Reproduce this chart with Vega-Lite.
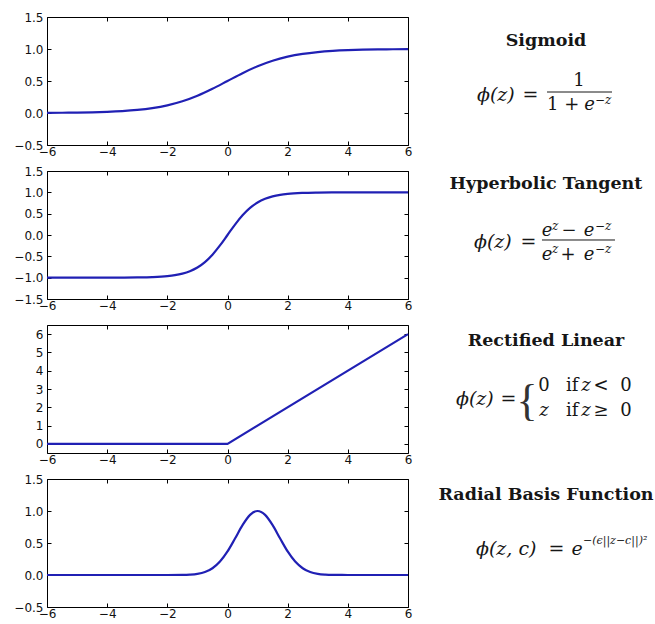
{
  "$schema": "https://vega.github.io/schema/vega-lite/v6.json",
  "padding": {"top": 11, "left": 13, "right": 0, "bottom": 0},
  "background": "white",
  "config": {
    "view": {"stroke": null},
    "axis": {
      "grid": false,
      "tickSize": -4,
      "tickColor": "#000",
      "domainColor": "#000",
      "labelFont": "DejaVu Sans",
      "labelFontSize": 12,
      "labelColor": "#111",
      "labelFlush": false,
      "labelOverlap": false
    },
    "axisX": {"labelPadding": 5},
    "axisY": {"labelPadding": 8},
    "text": {"font": "DejaVu Serif", "fontSize": 18, "color": "#161616", "baseline": "alphabetic"}
  },
  "datasets": {
    "curves": [
      {"fn": "sigmoid", "z": -6, "phi": 0.00247},
      {"fn": "sigmoid", "z": -5.5, "phi": 0.00407},
      {"fn": "sigmoid", "z": -5, "phi": 0.00669},
      {"fn": "sigmoid", "z": -4.5, "phi": 0.01099},
      {"fn": "sigmoid", "z": -4, "phi": 0.01799},
      {"fn": "sigmoid", "z": -3.5, "phi": 0.02931},
      {"fn": "sigmoid", "z": -3, "phi": 0.04743},
      {"fn": "sigmoid", "z": -2.5, "phi": 0.07586},
      {"fn": "sigmoid", "z": -2, "phi": 0.1192},
      {"fn": "sigmoid", "z": -1.5, "phi": 0.1824},
      {"fn": "sigmoid", "z": -1, "phi": 0.2689},
      {"fn": "sigmoid", "z": -0.5, "phi": 0.3775},
      {"fn": "sigmoid", "z": 0, "phi": 0.5},
      {"fn": "sigmoid", "z": 0.5, "phi": 0.6225},
      {"fn": "sigmoid", "z": 1, "phi": 0.7311},
      {"fn": "sigmoid", "z": 1.5, "phi": 0.8176},
      {"fn": "sigmoid", "z": 2, "phi": 0.8808},
      {"fn": "sigmoid", "z": 2.5, "phi": 0.9241},
      {"fn": "sigmoid", "z": 3, "phi": 0.9526},
      {"fn": "sigmoid", "z": 3.5, "phi": 0.9707},
      {"fn": "sigmoid", "z": 4, "phi": 0.982},
      {"fn": "sigmoid", "z": 4.5, "phi": 0.989},
      {"fn": "sigmoid", "z": 5, "phi": 0.9933},
      {"fn": "sigmoid", "z": 5.5, "phi": 0.9959},
      {"fn": "sigmoid", "z": 6, "phi": 0.9975},
      {"fn": "tanh", "z": -6, "phi": -0.99999},
      {"fn": "tanh", "z": -5.5, "phi": -0.99997},
      {"fn": "tanh", "z": -5, "phi": -0.99991},
      {"fn": "tanh", "z": -4.5, "phi": -0.99975},
      {"fn": "tanh", "z": -4, "phi": -0.99933},
      {"fn": "tanh", "z": -3.5, "phi": -0.99818},
      {"fn": "tanh", "z": -3, "phi": -0.99505},
      {"fn": "tanh", "z": -2.5, "phi": -0.98661},
      {"fn": "tanh", "z": -2, "phi": -0.96403},
      {"fn": "tanh", "z": -1.75, "phi": -0.94138},
      {"fn": "tanh", "z": -1.5, "phi": -0.90515},
      {"fn": "tanh", "z": -1.25, "phi": -0.84828},
      {"fn": "tanh", "z": -1, "phi": -0.76159},
      {"fn": "tanh", "z": -0.75, "phi": -0.63515},
      {"fn": "tanh", "z": -0.5, "phi": -0.46212},
      {"fn": "tanh", "z": -0.25, "phi": -0.24492},
      {"fn": "tanh", "z": 0, "phi": 0},
      {"fn": "tanh", "z": 0.25, "phi": 0.24492},
      {"fn": "tanh", "z": 0.5, "phi": 0.46212},
      {"fn": "tanh", "z": 0.75, "phi": 0.63515},
      {"fn": "tanh", "z": 1, "phi": 0.76159},
      {"fn": "tanh", "z": 1.25, "phi": 0.84828},
      {"fn": "tanh", "z": 1.5, "phi": 0.90515},
      {"fn": "tanh", "z": 1.75, "phi": 0.94138},
      {"fn": "tanh", "z": 2, "phi": 0.96403},
      {"fn": "tanh", "z": 2.5, "phi": 0.98661},
      {"fn": "tanh", "z": 3, "phi": 0.99505},
      {"fn": "tanh", "z": 3.5, "phi": 0.99818},
      {"fn": "tanh", "z": 4, "phi": 0.99933},
      {"fn": "tanh", "z": 4.5, "phi": 0.99975},
      {"fn": "tanh", "z": 5, "phi": 0.99991},
      {"fn": "tanh", "z": 5.5, "phi": 0.99997},
      {"fn": "tanh", "z": 6, "phi": 0.99999},
      {"fn": "relu", "z": -6, "phi": 0},
      {"fn": "relu", "z": 0, "phi": 0},
      {"fn": "relu", "z": 6, "phi": 6},
      {"fn": "rbf", "z": -6, "phi": 0},
      {"fn": "rbf", "z": -5, "phi": 0},
      {"fn": "rbf", "z": -4, "phi": 0},
      {"fn": "rbf", "z": -3, "phi": 0},
      {"fn": "rbf", "z": -2, "phi": 0.00012},
      {"fn": "rbf", "z": -1.5, "phi": 0.00193},
      {"fn": "rbf", "z": -1.25, "phi": 0.00633},
      {"fn": "rbf", "z": -1, "phi": 0.0183},
      {"fn": "rbf", "z": -0.75, "phi": 0.0468},
      {"fn": "rbf", "z": -0.5, "phi": 0.1054},
      {"fn": "rbf", "z": -0.25, "phi": 0.2096},
      {"fn": "rbf", "z": 0, "phi": 0.3679},
      {"fn": "rbf", "z": 0.25, "phi": 0.5698},
      {"fn": "rbf", "z": 0.5, "phi": 0.7788},
      {"fn": "rbf", "z": 0.75, "phi": 0.9394},
      {"fn": "rbf", "z": 1, "phi": 1},
      {"fn": "rbf", "z": 1.25, "phi": 0.9394},
      {"fn": "rbf", "z": 1.5, "phi": 0.7788},
      {"fn": "rbf", "z": 1.75, "phi": 0.5698},
      {"fn": "rbf", "z": 2, "phi": 0.3679},
      {"fn": "rbf", "z": 2.25, "phi": 0.2096},
      {"fn": "rbf", "z": 2.5, "phi": 0.1054},
      {"fn": "rbf", "z": 2.75, "phi": 0.0468},
      {"fn": "rbf", "z": 3, "phi": 0.0183},
      {"fn": "rbf", "z": 3.25, "phi": 0.00633},
      {"fn": "rbf", "z": 3.5, "phi": 0.00193},
      {"fn": "rbf", "z": 4, "phi": 0.00012},
      {"fn": "rbf", "z": 5, "phi": 0},
      {"fn": "rbf", "z": 6, "phi": 0}
    ],
    "notes": [
      {"panel": "sigmoid", "piece": "name", "text": "Sigmoid"},
      {"panel": "sigmoid", "piece": "lhs", "text": "ϕ(z)"},
      {"panel": "sigmoid", "piece": "eq", "text": "="},
      {"panel": "sigmoid", "piece": "n1", "text": "1"},
      {"panel": "sigmoid", "piece": "bar", "text": ""},
      {"panel": "sigmoid", "piece": "d1", "text": "1 +"},
      {"panel": "sigmoid", "piece": "d2", "text": "e"},
      {"panel": "sigmoid", "piece": "ds", "text": "−z"},
      {"panel": "tanh", "piece": "name", "text": "Hyperbolic Tangent"},
      {"panel": "tanh", "piece": "lhs", "text": "ϕ(z)"},
      {"panel": "tanh", "piece": "eq", "text": "="},
      {"panel": "tanh", "piece": "n1", "text": "e"},
      {"panel": "tanh", "piece": "ns1", "text": "z"},
      {"panel": "tanh", "piece": "n2", "text": "−"},
      {"panel": "tanh", "piece": "n3", "text": "e"},
      {"panel": "tanh", "piece": "ns2", "text": "−z"},
      {"panel": "tanh", "piece": "bar", "text": ""},
      {"panel": "tanh", "piece": "d1", "text": "e"},
      {"panel": "tanh", "piece": "ds1", "text": "z"},
      {"panel": "tanh", "piece": "d2", "text": "+"},
      {"panel": "tanh", "piece": "d3", "text": "e"},
      {"panel": "tanh", "piece": "ds2", "text": "−z"},
      {"panel": "relu", "piece": "name", "text": "Rectified Linear"},
      {"panel": "relu", "piece": "lhs", "text": "ϕ(z)"},
      {"panel": "relu", "piece": "eq", "text": "="},
      {"panel": "relu", "piece": "brace", "text": "{"},
      {"panel": "relu", "piece": "a1", "text": "0"},
      {"panel": "relu", "piece": "a2", "text": "if"},
      {"panel": "relu", "piece": "a3", "text": "z"},
      {"panel": "relu", "piece": "a4", "text": "<"},
      {"panel": "relu", "piece": "a5", "text": "0"},
      {"panel": "relu", "piece": "b1", "text": "z"},
      {"panel": "relu", "piece": "b2", "text": "if"},
      {"panel": "relu", "piece": "b3", "text": "z"},
      {"panel": "relu", "piece": "b4", "text": "≥"},
      {"panel": "relu", "piece": "b5", "text": "0"},
      {"panel": "rbf", "piece": "name", "text": "Radial Basis Function"},
      {"panel": "rbf", "piece": "lhs", "text": "ϕ(z, c)"},
      {"panel": "rbf", "piece": "eq", "text": "="},
      {"panel": "rbf", "piece": "e", "text": "e"},
      {"panel": "rbf", "piece": "sup", "text": "−(ϵ||z−c||)²"}
    ]
  },
  "columns": 2,
  "spacing": {"row": 26, "column": 23},
  "bounds": "flush",
  "concat": [
    {
      "width": 361, "height": 128,
      "data": {"name": "curves"},
      "transform": [{"filter": "datum.fn === 'sigmoid'"}],
      "layer": [
        {
          "mark": {"type": "line", "color": "#2020b4", "strokeWidth": 2.2, "interpolate": "monotone"},
          "encoding": {
            "x": {"field": "z", "type": "quantitative", "scale": {"domain": [-6, 6], "nice": false, "zero": false},
                  "axis": {"orient": "bottom", "values": [-6, -4, -2, 0, 2, 4, 6], "format": "d", "title": null}},
            "y": {"field": "phi", "type": "quantitative", "scale": {"domain": [-0.5, 1.5], "nice": false, "zero": false},
                  "axis": {"orient": "left", "values": [-0.5, 0, 0.5, 1, 1.5], "format": ".1f", "title": null}}
          }
        },
        {
          "mark": {"type": "line", "strokeOpacity": 0},
          "encoding": {
            "x": {"field": "z", "type": "quantitative", "axis": {"orient": "top", "values": [-6, -4, -2, 0, 2, 4, 6], "labels": false, "title": null}},
            "y": {"field": "phi", "type": "quantitative", "axis": {"orient": "right", "values": [-0.5, 0, 0.5, 1, 1.5], "labels": false, "title": null}}
          }
        }
      ],
      "resolve": {"axis": {"x": "independent", "y": "independent"}}
    },
    {
      "width": 230, "height": 128,
      "data": {"name": "notes"},
      "transform": [{"filter": "datum.panel === 'sigmoid'"}],
      "encoding": {
        "x": {"datum": 0, "type": "quantitative", "scale": {"domain": [-1, 1], "nice": false}, "axis": null},
        "y": {"datum": 0, "type": "quantitative", "scale": {"domain": [-1, 1], "nice": false}, "axis": null}
      },
      "layer": [
        {"transform": [{"filter": "datum.piece === 'name'"}], "mark": {"type": "text", "fontWeight": "bold", "fontSize": 17.5, "align": "center", "baseline": "middle", "dy": -40}, "encoding": {"text": {"field": "text"}}},
        {"transform": [{"filter": "datum.piece === 'lhs'"}], "mark": {"type": "text", "fontSize": 19, "fontStyle": "italic", "align": "left", "dx": -69, "dy": 20}, "encoding": {"text": {"field": "text"}}},
        {"transform": [{"filter": "datum.piece === 'eq'"}], "mark": {"type": "text", "fontSize": 19, "align": "center", "dx": -15.5, "dy": 20}, "encoding": {"text": {"field": "text"}}},
        {"transform": [{"filter": "datum.piece === 'n1'"}], "mark": {"type": "text", "align": "center", "dx": 33, "dy": 5}, "encoding": {"text": {"field": "text"}}},
        {"transform": [{"filter": "datum.piece === 'bar'"}], "mark": {"type": "rule", "color": "#161616", "strokeWidth": 1},
         "encoding": {"x": {"datum": 0.009, "type": "quantitative"}, "x2": {"datum": 0.574}, "y": {"datum": -0.172, "type": "quantitative"}}},
        {"transform": [{"filter": "datum.piece === 'd1'"}], "mark": {"type": "text", "align": "left", "dx": 1, "dy": 29}, "encoding": {"text": {"field": "text"}}},
        {"transform": [{"filter": "datum.piece === 'd2'"}], "mark": {"type": "text", "fontStyle": "italic", "align": "center", "dx": 43.5, "dy": 29}, "encoding": {"text": {"field": "text"}}},
        {"transform": [{"filter": "datum.piece === 'ds'"}], "mark": {"type": "text", "fontSize": 12, "fontStyle": "italic", "align": "left", "dx": 49, "dy": 23}, "encoding": {"text": {"field": "text"}}}
      ]
    },
    {
      "width": 361, "height": 128,
      "data": {"name": "curves"},
      "transform": [{"filter": "datum.fn === 'tanh'"}],
      "layer": [
        {
          "mark": {"type": "line", "color": "#2020b4", "strokeWidth": 2.2, "interpolate": "monotone"},
          "encoding": {
            "x": {"field": "z", "type": "quantitative", "scale": {"domain": [-6, 6], "nice": false, "zero": false},
                  "axis": {"orient": "bottom", "values": [-6, -4, -2, 0, 2, 4, 6], "format": "d", "title": null}},
            "y": {"field": "phi", "type": "quantitative", "scale": {"domain": [-1.5, 1.5], "nice": false, "zero": false},
                  "axis": {"orient": "left", "values": [-1.5, -1, -0.5, 0, 0.5, 1, 1.5], "format": ".1f", "title": null}}
          }
        },
        {
          "mark": {"type": "line", "strokeOpacity": 0},
          "encoding": {
            "x": {"field": "z", "type": "quantitative", "axis": {"orient": "top", "values": [-6, -4, -2, 0, 2, 4, 6], "labels": false, "title": null}},
            "y": {"field": "phi", "type": "quantitative", "axis": {"orient": "right", "values": [-1.5, -1, -0.5, 0, 0.5, 1, 1.5], "labels": false, "title": null}}
          }
        }
      ],
      "resolve": {"axis": {"x": "independent", "y": "independent"}}
    },
    {
      "width": 230, "height": 128,
      "data": {"name": "notes"},
      "transform": [{"filter": "datum.panel === 'tanh'"}],
      "encoding": {
        "x": {"datum": 0, "type": "quantitative", "scale": {"domain": [-1, 1], "nice": false}, "axis": null},
        "y": {"datum": 0, "type": "quantitative", "scale": {"domain": [-1, 1], "nice": false}, "axis": null}
      },
      "layer": [
        {"transform": [{"filter": "datum.piece === 'name'"}], "mark": {"type": "text", "fontWeight": "bold", "fontSize": 17.5, "align": "center", "baseline": "middle", "dy": -51}, "encoding": {"text": {"field": "text"}}},
        {"transform": [{"filter": "datum.piece === 'lhs'"}], "mark": {"type": "text", "fontSize": 19, "fontStyle": "italic", "align": "left", "dx": -72, "dy": 13}, "encoding": {"text": {"field": "text"}}},
        {"transform": [{"filter": "datum.piece === 'eq'"}], "mark": {"type": "text", "fontSize": 19, "align": "center", "dx": -17.5, "dy": 13}, "encoding": {"text": {"field": "text"}}},
        {"transform": [{"filter": "datum.piece === 'n1'"}], "mark": {"type": "text", "fontStyle": "italic", "align": "center", "dx": 1, "dy": 1}, "encoding": {"text": {"field": "text"}}},
        {"transform": [{"filter": "datum.piece === 'ns1'"}], "mark": {"type": "text", "fontSize": 12, "fontStyle": "italic", "align": "left", "dx": 6, "dy": -5}, "encoding": {"text": {"field": "text"}}},
        {"transform": [{"filter": "datum.piece === 'n2'"}], "mark": {"type": "text", "align": "center", "dx": 23, "dy": 1}, "encoding": {"text": {"field": "text"}}},
        {"transform": [{"filter": "datum.piece === 'n3'"}], "mark": {"type": "text", "fontStyle": "italic", "align": "center", "dx": 43, "dy": 1}, "encoding": {"text": {"field": "text"}}},
        {"transform": [{"filter": "datum.piece === 'ns2'"}], "mark": {"type": "text", "fontSize": 12, "fontStyle": "italic", "align": "left", "dx": 49, "dy": -5}, "encoding": {"text": {"field": "text"}}},
        {"transform": [{"filter": "datum.piece === 'bar'"}], "mark": {"type": "rule", "color": "#161616", "strokeWidth": 1},
         "encoding": {"x": {"datum": -0.035, "type": "quantitative"}, "x2": {"datum": 0.6}, "y": {"datum": -0.078, "type": "quantitative"}}},
        {"transform": [{"filter": "datum.piece === 'd1'"}], "mark": {"type": "text", "fontStyle": "italic", "align": "center", "dx": 1, "dy": 25}, "encoding": {"text": {"field": "text"}}},
        {"transform": [{"filter": "datum.piece === 'ds1'"}], "mark": {"type": "text", "fontSize": 12, "fontStyle": "italic", "align": "left", "dx": 6, "dy": 18}, "encoding": {"text": {"field": "text"}}},
        {"transform": [{"filter": "datum.piece === 'd2'"}], "mark": {"type": "text", "align": "center", "dx": 22, "dy": 25}, "encoding": {"text": {"field": "text"}}},
        {"transform": [{"filter": "datum.piece === 'd3'"}], "mark": {"type": "text", "fontStyle": "italic", "align": "center", "dx": 43, "dy": 25}, "encoding": {"text": {"field": "text"}}},
        {"transform": [{"filter": "datum.piece === 'ds2'"}], "mark": {"type": "text", "fontSize": 12, "fontStyle": "italic", "align": "left", "dx": 49, "dy": 18}, "encoding": {"text": {"field": "text"}}}
      ]
    },
    {
      "width": 361, "height": 128,
      "data": {"name": "curves"},
      "transform": [{"filter": "datum.fn === 'relu'"}],
      "layer": [
        {
          "mark": {"type": "line", "color": "#2020b4", "strokeWidth": 2.2, "interpolate": "linear"},
          "encoding": {
            "x": {"field": "z", "type": "quantitative", "scale": {"domain": [-6, 6], "nice": false, "zero": false},
                  "axis": {"orient": "bottom", "values": [-6, -4, -2, 0, 2, 4, 6], "format": "d", "title": null}},
            "y": {"field": "phi", "type": "quantitative", "scale": {"domain": [-0.5, 6.5], "nice": false, "zero": false},
                  "axis": {"orient": "left", "values": [0, 1, 2, 3, 4, 5, 6], "format": "d", "title": null}}
          }
        },
        {
          "mark": {"type": "line", "strokeOpacity": 0},
          "encoding": {
            "x": {"field": "z", "type": "quantitative", "axis": {"orient": "top", "values": [-6, -4, -2, 0, 2, 4, 6], "labels": false, "title": null}},
            "y": {"field": "phi", "type": "quantitative", "axis": {"orient": "right", "values": [0, 1, 2, 3, 4, 5, 6], "labels": false, "title": null}}
          }
        }
      ],
      "resolve": {"axis": {"x": "independent", "y": "independent"}}
    },
    {
      "width": 230, "height": 128,
      "data": {"name": "notes"},
      "transform": [{"filter": "datum.panel === 'relu'"}],
      "encoding": {
        "x": {"datum": 0, "type": "quantitative", "scale": {"domain": [-1, 1], "nice": false}, "axis": null},
        "y": {"datum": 0, "type": "quantitative", "scale": {"domain": [-1, 1], "nice": false}, "axis": null}
      },
      "layer": [
        {"transform": [{"filter": "datum.piece === 'name'"}], "mark": {"type": "text", "fontWeight": "bold", "fontSize": 17.5, "align": "center", "baseline": "middle", "dy": -48}, "encoding": {"text": {"field": "text"}}},
        {"transform": [{"filter": "datum.piece === 'lhs'"}], "mark": {"type": "text", "fontSize": 19, "fontStyle": "italic", "align": "left", "dx": -90, "dy": 16}, "encoding": {"text": {"field": "text"}}},
        {"transform": [{"filter": "datum.piece === 'eq'"}], "mark": {"type": "text", "fontSize": 19, "align": "center", "dx": -37.5, "dy": 16}, "encoding": {"text": {"field": "text"}}},
        {"transform": [{"filter": "datum.piece === 'brace'"}], "mark": {"type": "text", "font": "Liberation Serif", "fontSize": 44, "color": "#333", "align": "center", "baseline": "middle", "dx": -19, "dy": 13}, "encoding": {"text": {"field": "text"}}},
        {"transform": [{"filter": "datum.piece === 'a1'"}], "mark": {"type": "text", "align": "center", "dx": -2, "dy": 2}, "encoding": {"text": {"field": "text"}}},
        {"transform": [{"filter": "datum.piece === 'a2'"}], "mark": {"type": "text", "align": "left", "dx": 20, "dy": 2}, "encoding": {"text": {"field": "text"}}},
        {"transform": [{"filter": "datum.piece === 'a3'"}], "mark": {"type": "text", "fontStyle": "italic", "align": "center", "dx": 40, "dy": 2}, "encoding": {"text": {"field": "text"}}},
        {"transform": [{"filter": "datum.piece === 'a4'"}], "mark": {"type": "text", "align": "center", "dx": 55, "dy": 2}, "encoding": {"text": {"field": "text"}}},
        {"transform": [{"filter": "datum.piece === 'a5'"}], "mark": {"type": "text", "align": "center", "dx": 80, "dy": 2}, "encoding": {"text": {"field": "text"}}},
        {"transform": [{"filter": "datum.piece === 'b1'"}], "mark": {"type": "text", "fontStyle": "italic", "align": "center", "dx": -2, "dy": 27}, "encoding": {"text": {"field": "text"}}},
        {"transform": [{"filter": "datum.piece === 'b2'"}], "mark": {"type": "text", "align": "left", "dx": 20, "dy": 27}, "encoding": {"text": {"field": "text"}}},
        {"transform": [{"filter": "datum.piece === 'b3'"}], "mark": {"type": "text", "fontStyle": "italic", "align": "center", "dx": 40, "dy": 27}, "encoding": {"text": {"field": "text"}}},
        {"transform": [{"filter": "datum.piece === 'b4'"}], "mark": {"type": "text", "align": "center", "dx": 55, "dy": 27}, "encoding": {"text": {"field": "text"}}},
        {"transform": [{"filter": "datum.piece === 'b5'"}], "mark": {"type": "text", "align": "center", "dx": 80, "dy": 27}, "encoding": {"text": {"field": "text"}}}
      ]
    },
    {
      "width": 361, "height": 128,
      "data": {"name": "curves"},
      "transform": [{"filter": "datum.fn === 'rbf'"}],
      "layer": [
        {
          "mark": {"type": "line", "color": "#2020b4", "strokeWidth": 2.2, "interpolate": "monotone"},
          "encoding": {
            "x": {"field": "z", "type": "quantitative", "scale": {"domain": [-6, 6], "nice": false, "zero": false},
                  "axis": {"orient": "bottom", "values": [-6, -4, -2, 0, 2, 4, 6], "format": "d", "title": null}},
            "y": {"field": "phi", "type": "quantitative", "scale": {"domain": [-0.5, 1.5], "nice": false, "zero": false},
                  "axis": {"orient": "left", "values": [-0.5, 0, 0.5, 1, 1.5], "format": ".1f", "title": null}}
          }
        },
        {
          "mark": {"type": "line", "strokeOpacity": 0},
          "encoding": {
            "x": {"field": "z", "type": "quantitative", "axis": {"orient": "top", "values": [-6, -4, -2, 0, 2, 4, 6], "labels": false, "title": null}},
            "y": {"field": "phi", "type": "quantitative", "axis": {"orient": "right", "values": [-0.5, 0, 0.5, 1, 1.5], "labels": false, "title": null}}
          }
        }
      ],
      "resolve": {"axis": {"x": "independent", "y": "independent"}}
    },
    {
      "width": 230, "height": 128,
      "data": {"name": "notes"},
      "transform": [{"filter": "datum.panel === 'rbf'"}],
      "encoding": {
        "x": {"datum": 0, "type": "quantitative", "scale": {"domain": [-1, 1], "nice": false}, "axis": null},
        "y": {"datum": 0, "type": "quantitative", "scale": {"domain": [-1, 1], "nice": false}, "axis": null}
      },
      "layer": [
        {"transform": [{"filter": "datum.piece === 'name'"}], "mark": {"type": "text", "fontWeight": "bold", "fontSize": 17.5, "align": "center", "baseline": "middle", "dy": -48}, "encoding": {"text": {"field": "text"}}},
        {"transform": [{"filter": "datum.piece === 'lhs'"}], "mark": {"type": "text", "fontSize": 19, "fontStyle": "italic", "align": "left", "dx": -70, "dy": 12}, "encoding": {"text": {"field": "text"}}},
        {"transform": [{"filter": "datum.piece === 'eq'"}], "mark": {"type": "text", "fontSize": 19, "align": "center", "dx": 10.5, "dy": 12}, "encoding": {"text": {"field": "text"}}},
        {"transform": [{"filter": "datum.piece === 'e'"}], "mark": {"type": "text", "fontSize": 19, "fontStyle": "italic", "align": "center", "dx": 31, "dy": 12}, "encoding": {"text": {"field": "text"}}},
        {"transform": [{"filter": "datum.piece === 'sup'"}], "mark": {"type": "text", "fontSize": 11, "fontStyle": "italic", "align": "left", "dx": 37, "dy": 1}, "encoding": {"text": {"field": "text"}}}
      ]
    }
  ]
}
